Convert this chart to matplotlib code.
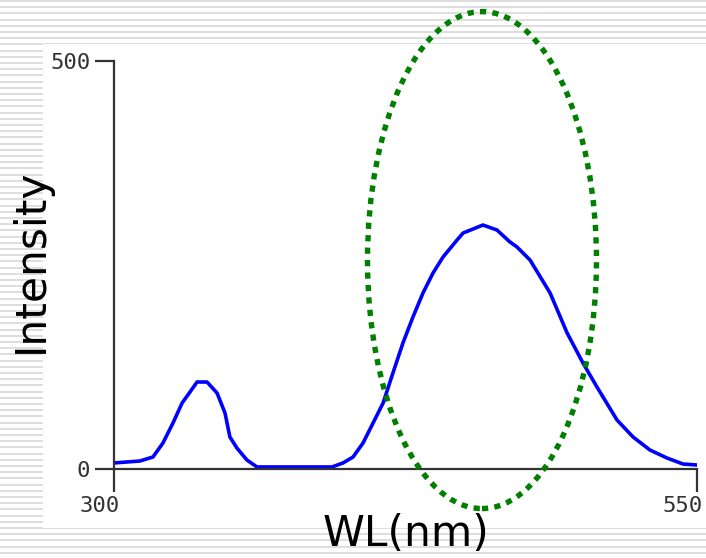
import numpy as np
import matplotlib
matplotlib.use("Agg")
import matplotlib.pyplot as plt
from matplotlib.patches import Ellipse, Rectangle
from matplotlib.transforms import ScaledTranslation

# Data
wavelength = [300.0, 311.1, 316.7, 321.0, 325.3, 329.2, 332.6, 335.6, 339.9, 344.2,
              347.6, 349.7, 352.7, 357.0, 361.3, 393.5, 398.2, 402.5, 406.8, 411.1,
              415.4, 419.6, 423.9, 428.2, 432.5, 436.8, 441.1, 447.1, 449.7, 458.2,
              464.2, 469.8, 472.8, 478.4, 487.0, 494.3, 501.1, 507.1, 515.7, 522.6,
              529.8, 537.1, 544.0, 550.0]
intensity = [7.4, 9.8, 14.7, 31.9, 56.4, 80.9, 94.4, 106.6, 106.6, 93.1,
             68.6, 39.2, 25.7, 11.0, 2.5, 2.5, 7.4, 14.7, 31.9, 56.4,
             80.9, 117.6, 154.4, 186.3, 215.7, 240.2, 259.8, 280.6, 289.2, 299.0,
             292.9, 278.2, 272.1, 256.1, 215.7, 166.7, 129.9, 100.5, 60.0, 39.2,
             23.3, 13.5, 6.1, 4.9]
x_ticks = [300, 550]
y_ticks = [0, 500]
x_label = "WL(nm)"
y_label = "Intensity"
# highlight ellipse (data units): center, width, height
ell_center = (457.8, 256.0)
ell_width = 98.2
ell_height = 609.0

W, H = 706, 558
fig = plt.figure(figsize=(W / 100, H / 100), dpi=100)
fig.patch.set_facecolor("white")

# striped background
bg = fig.add_axes([0, 0, 1, 1], zorder=-5)
bg.set_xlim(0, W)
bg.set_ylim(H, 0)
bg.axis("off")
for yy in np.arange(1.0, H, 6.2):
    bg.axhline(yy, color="#dedede", lw=1.4)
bg.add_patch(Rectangle((43, 44), W - 43, 528 - 44, facecolor="white",
                       edgecolor="none", zorder=3))

# main axes
left, right = 114 / W, 697 / W
bottom, top = (H - 469) / H, (H - 61) / H
ax = fig.add_axes([left, bottom, right - left, top - bottom])
ax.patch.set_alpha(0)
ax.set_xlim(300, 550)
ax.set_ylim(0, 500)

ax.plot(wavelength, intensity, color="#0000ff", lw=2.6, solid_joinstyle="round")

ax.add_patch(Ellipse(ell_center, ell_width, ell_height, fill=False,
                     edgecolor="#007f00", lw=3.9, linestyle=(0, (1.15, 1.15)),
                     clip_on=False, zorder=5))

for s in ["top", "right"]:
    ax.spines[s].set_visible(False)
for s in ["left", "bottom"]:
    ax.spines[s].set_color("#333333")
    ax.spines[s].set_linewidth(1.6)

mono = "DejaVu Sans Mono"
ax.set_xticks(x_ticks)
ax.set_yticks(y_ticks)
ax.set_xticklabels([str(v) for v in x_ticks], fontfamily=mono, fontsize=16,
                   color="#333333")
ax.set_yticklabels([str(v) for v in y_ticks], fontfamily=mono, fontsize=16,
                   color="#333333")
ax.tick_params(axis="x", direction="out", length=16.5, width=1.6,
               color="#333333", pad=3)
ax.tick_params(axis="y", direction="out", length=13.7, width=1.6,
               color="#333333", pad=3.5)
for lbl in ax.get_xticklabels():
    lbl.set_ha("right")
    lbl.set_transform(lbl.get_transform() +
                      ScaledTranslation(6 / 100, 0, fig.dpi_scale_trans))

ax.set_xlabel(x_label, fontsize=30.5, fontfamily="DejaVu Sans", color="black")
ax.xaxis.set_label_coords(0.5, -0.107)
ax.set_ylabel(y_label, fontsize=30.5, fontfamily="DejaVu Sans", color="black")
ax.yaxis.set_label_coords(-0.1066, 0.51)

fig.savefig("out.png", dpi=100)
